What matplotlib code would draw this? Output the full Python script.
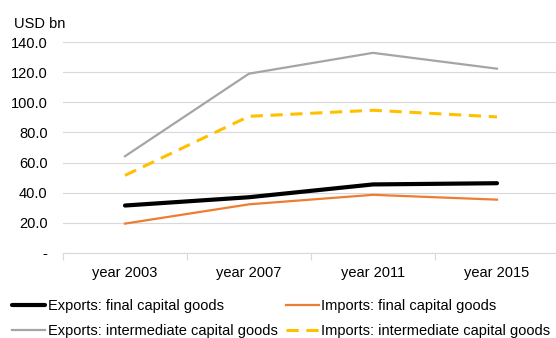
import numpy as np
import matplotlib.pyplot as plt

plt.rcParams['font.family'] = ['Liberation Sans', 'DejaVu Sans']

years = ['year 2003', 'year 2007', 'year 2011', 'year 2015']
exp_final = [31.5, 37.0, 45.5, 46.3]
imp_final = [19.5, 32.3, 38.6, 35.4]
exp_inter = [64.2, 119.0, 132.8, 122.3]
imp_inter = [51.5, 90.7, 94.7, 90.3]
yticks = [0, 20, 40, 60, 80, 100, 120, 140]
ylabels = ['-'] + ['%.1f' % v for v in yticks[1:]]

fig = plt.figure(figsize=(5.56, 3.38), dpi=100)
# axes runs a touch past the right edge like the original
ax = fig.add_axes([63 / 556, 1 - 253 / 338, (559 - 63) / 556, (253 - 42) / 338])

x = np.arange(len(years))
l1, = ax.plot(x, exp_final, color='black', lw=3.0, solid_capstyle='round',
              label='Exports: final capital goods')
l2, = ax.plot(x, imp_final, color='#ED7D31', lw=1.6, label='Imports: final capital goods')
l3, = ax.plot(x, exp_inter, color='#A5A5A5', lw=1.6, label='Exports: intermediate capital goods')
l4, = ax.plot(x, imp_inter, color='#FFC000', lw=2.2, dashes=(4, 2.5),
              label='Imports: intermediate capital goods')

ax.set_xlim(-0.5, 3.5)
ax.set_ylim(0, 140)
ax.set_yticks(yticks)
ax.set_yticklabels(ylabels, fontsize=10.5)
ax.set_xticks(x)
ax.set_xticklabels(years, fontsize=10.5)
ax.tick_params(axis='x', length=0, pad=9)
ax.set_xticks([-0.5, 0.5, 1.5, 2.5, 3.5], minor=True)
ax.tick_params(axis='x', which='minor', length=5, color='#D9D9D9', width=0.8)
ax.tick_params(axis='y', length=0, pad=11)
ax.grid(axis='y', color='#D9D9D9', lw=0.8)
ax.set_axisbelow(True)
for s in ['top', 'right', 'left']:
    ax.spines[s].set_visible(False)
ax.spines['bottom'].set_color('#D9D9D9')

fig.text(14 / 556, 1 - 24 / 338, 'USD bn', fontsize=10.5, va='center')

# legend fills column-wise, so order handles to get exports/imports side by side
fig.legend(handles=[l1, l3, l2, l4], ncol=2, loc='lower left',
           bbox_to_anchor=(0.006, -0.025), frameon=False, fontsize=10.5,
           handlelength=2.25, handletextpad=0.2, columnspacing=0.55,
           labelspacing=0.75, borderaxespad=0.2)

fig.savefig('out.png', dpi=100)
